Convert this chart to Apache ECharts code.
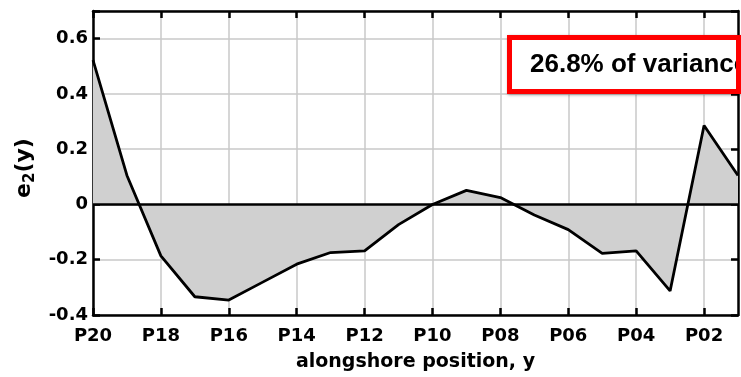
<!DOCTYPE html>
<html><head><meta charset="utf-8">
<script src="https://cdn.jsdelivr.net/npm/echarts@6/dist/echarts.min.js"></script>
<style>html,body{margin:0;padding:0;background:#fff}#c{width:741px;height:377px}</style>
</head><body><div id="c"></div>
<script>
const categories = ['P20','P19','P18','P17','P16','P15','P14','P13','P12','P11','P10','P09','P08','P07','P06','P05','P04','P03','P02','P01'];
const e2Values = [0.522,0.105,-0.186,-0.334,-0.346,-0.281,-0.216,-0.174,-0.168,-0.073,0.0,0.051,0.025,-0.038,-0.091,-0.177,-0.168,-0.313,0.286,0.105];
const yTicks = [-0.4,-0.2,0,0.2,0.4,0.6];
const annotation = '26.8% of variance';

const FONT = '"DejaVu Sans", sans-serif';
const AFONT = '"Liberation Sans", Arial, sans-serif';
const chart = echarts.init(document.getElementById('c'));
const lbl = {fontFamily: FONT, fontWeight: 'bold', fontSize: 18, color: '#000'};
const frameLine = {show: true, onZero: false, lineStyle: {color: '#000', width: 2.5}};
const tick = {show: true, inside: true, length: 7, lineStyle: {color: '#000', width: 2.5}};
chart.setOption({
  animation: false,
  grid: {left: 93, right: 3, top: 11, bottom: 56, show: false},
  xAxis: [{
    type: 'category', data: categories, boundaryGap: false, position: 'bottom',
    axisLine: frameLine,
    axisTick: Object.assign({interval: 1}, tick),
    axisLabel: Object.assign({interval: 1, margin: 12}, lbl),
    splitLine: {show: true, interval: 1, lineStyle: {color: '#c8c8c8', width: 1.5}},
    name: 'alongshore position, y', nameLocation: 'middle', nameGap: 38,
    nameTextStyle: {fontFamily: FONT, fontWeight: 'bold', fontSize: 19, color: '#000'}
  },{
    type: 'category', data: categories, boundaryGap: false, position: 'top',
    axisLine: frameLine,
    axisTick: Object.assign({interval: 1}, tick),
    axisLabel: {show: false}, splitLine: {show: false}
  }],
  yAxis: [{
    type: 'value', min: -0.4, max: 0.7, interval: 0.2, position: 'left',
    axisLine: frameLine,
    axisTick: tick,
    axisLabel: Object.assign({margin: 5, formatter: v => (yTicks.includes(Math.round(v*10)/10) ? (v===0?'0':v.toFixed(1)) : '')}, lbl),
    splitLine: {show: true, lineStyle: {color: '#c8c8c8', width: 1.5}},
    name: '{a|e}{s|2}{a|(y)}', nameLocation: 'middle', nameGap: 54, nameRotate: 90,
    nameTextStyle: {padding: [0, 10, 0, 0], rich: {a: {fontFamily: FONT, fontWeight: 'bold', fontSize: 22, color: '#000'}, s: {fontFamily: FONT, fontWeight: 'bold', fontSize: 15, color: '#000', verticalAlign: 'bottom', padding: [11,0,0,0]}}}
  },{
    type: 'value', min: -0.4, max: 0.7, interval: 0.2, position: 'right',
    axisLine: frameLine,
    axisTick: tick,
    axisLabel: {show: false}, splitLine: {show: false}
  }],
  series: [{
    type: 'line', data: e2Values, symbol: 'none',
    lineStyle: {color: '#000', width: 2.8},
    areaStyle: {color: '#d0d0d0', opacity: 1, origin: 0},
    markLine: {silent: true, symbol: 'none', label: {show: false},
      lineStyle: {color: '#000', width: 2.5, type: 'solid'}, data: [{yAxis: 0}]},
    z: 3
  }],
  graphic: [{
    type: 'rect', left: 507, top: 35, z: 100,
    shape: {width: 240, height: 59},
    style: {fill: '#fff', stroke: null, shadowBlur: 3, shadowColor: 'rgba(0,0,0,0.35)', shadowOffsetX: 1, shadowOffsetY: 1}
  },{
    type: 'text', left: 530, top: 52, z: 101,
    style: {text: annotation, font: 'bold 26px ' + AFONT, fill: '#000'}
  },{
    type: 'rect', x: 509.5, y: 37.5, z: 102,
    shape: {width: 229, height: 54},
    style: {fill: null, stroke: '#ff0000', lineWidth: 5}
  }]
});
</script></body></html>
